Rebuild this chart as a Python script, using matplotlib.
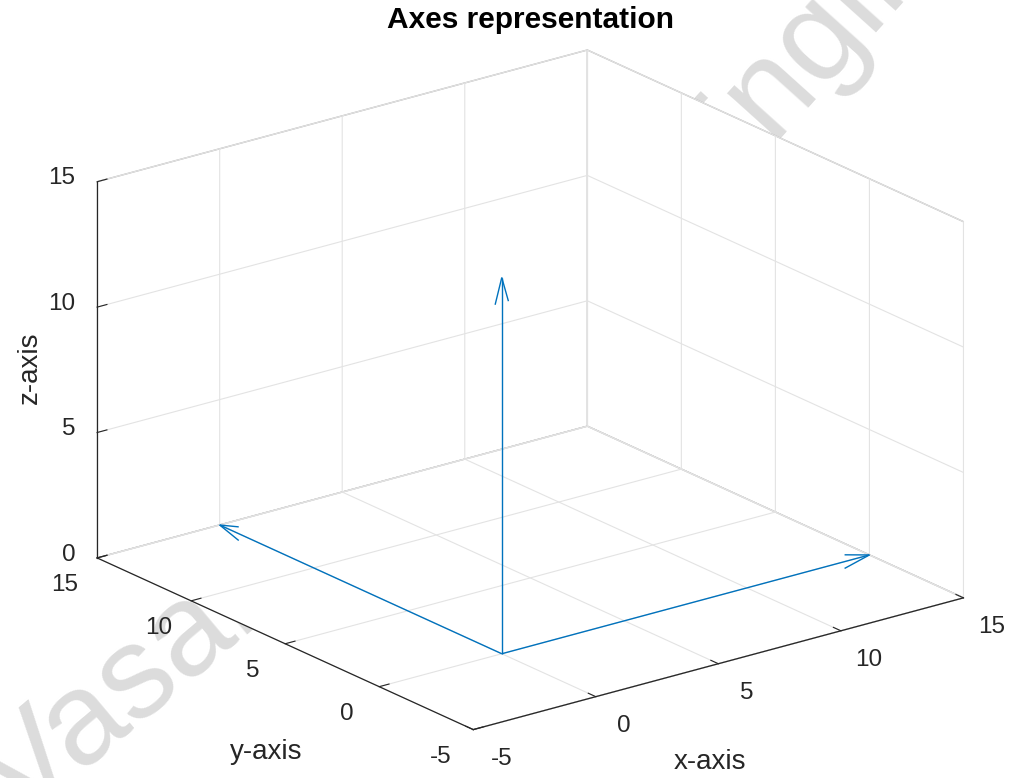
import matplotlib

matplotlib.use("Agg")

import matplotlib.pyplot as plt
import matplotlib.transforms as mtransforms
import numpy as np

# arrow origins and components (quiver3 style)
origin_x = [0, 0, 0]
origin_y = [0, 0, 0]
origin_z = [0, 0, 0]
comp_u = [15, 0, 0]
comp_v = [0, 15, 0]
comp_w = [0, 0, 15]

x_ticks = [-5, 0, 5, 10, 15]
y_ticks = [-5, 0, 5, 10, 15]
z_ticks = [0, 5, 10, 15]

title = "Axes representation"
x_label = "x-axis"
y_label = "y-axis"
z_label = "z-axis"
watermark_left = "Vasai"
watermark_right = "Engineering"

plt.rcParams["font.family"] = ["Liberation Sans", "DejaVu Sans"]
plt.rcParams["axes.unicode_minus"] = False


def nudge_tick_labels(axis, dx, dy, ha=None):
    # axis3d resets label transforms on every draw, so hook the tick update
    original = axis.get_major_ticks

    def wrapped(numticks=None):
        ticks = original(numticks)
        shift = mtransforms.Affine2D().translate(dx, -dy)
        for tick in ticks:
            tick.label1.set_transform(axis.axes.transData + shift)
            if ha is not None:
                tick.label1.set_ha(ha)
        return ticks

    axis.get_major_ticks = wrapped


fig = plt.figure(figsize=(10.18, 7.78), dpi=100)
fig.patch.set_facecolor("white")

# faint watermark, sits behind the axes box
fig.text(0.02, -0.06, watermark_left, fontsize=94, color="#dcdcdc",
         rotation=40, rotation_mode="anchor", ha="left", va="baseline", zorder=-5)
fig.text(0.70, 0.739, watermark_right, fontsize=94, color="#dcdcdc",
         rotation=48, rotation_mode="anchor", ha="left", va="baseline", zorder=-5)

ax = fig.add_axes([0.031, 0.006, 0.96, 0.96], projection="3d")
ax.patch.set_alpha(0)
ax.set_proj_type("ortho")
ax.view_init(elev=20.5, azim=-127.5)
ax.set_box_aspect((1, 1, 0.65), zoom=1.25)

ax.quiver(origin_x, origin_y, origin_z, comp_u, comp_v, comp_w,
          color="#0072BD", linewidth=1.0, arrow_length_ratio=0.07)

ax.set_xlim(x_ticks[0], x_ticks[-1])
ax.set_ylim(y_ticks[0], y_ticks[-1])
ax.set_zlim(z_ticks[0], z_ticks[-1])
ax.set_xticks(x_ticks)
ax.set_yticks(y_ticks)
ax.set_zticks(z_ticks)

for axis in (ax.xaxis, ax.yaxis, ax.zaxis):
    axis.set_pane_color((1, 1, 1, 1))
    axis.pane.set_edgecolor("#b5b5b5")
    axis.line.set_color("#262626")
    axis.line.set_linewidth(0.9)
    axis._axinfo["grid"].update(color="#e3e3e3", linewidth=0.8)
    axis._axinfo["tick"].update(inward_factor=0.0, outward_factor=0.25)
    axis._axinfo["axisline"]["color"] = "#262626"

ax.tick_params(axis="both", labelsize=17.5, colors="#262626", pad=1)
ax.tick_params(axis="z", labelsize=17.5, colors="#262626", pad=1)

nudge_tick_labels(ax.xaxis, 16, 1)
nudge_tick_labels(ax.yaxis, -17, 0)
nudge_tick_labels(ax.zaxis, 6, -13, ha="right")

# MATLAB keeps axis labels upright, so place them as plain text
fig.text(30 / 1018, 1 - 368 / 778, z_label, fontsize=20, color="#262626",
         rotation=90, ha="center", va="center")
fig.text(266 / 1018, 1 - 752 / 778, y_label, fontsize=20, color="#262626",
         ha="center", va="center")
fig.text(710 / 1018, 1 - 762 / 778, x_label, fontsize=20, color="#262626",
         ha="center", va="center")

fig.text(0.5216, 0.974, title, fontsize=21.5, fontweight="bold",
         ha="center", va="center")

fig.savefig("out.png", dpi=100)
